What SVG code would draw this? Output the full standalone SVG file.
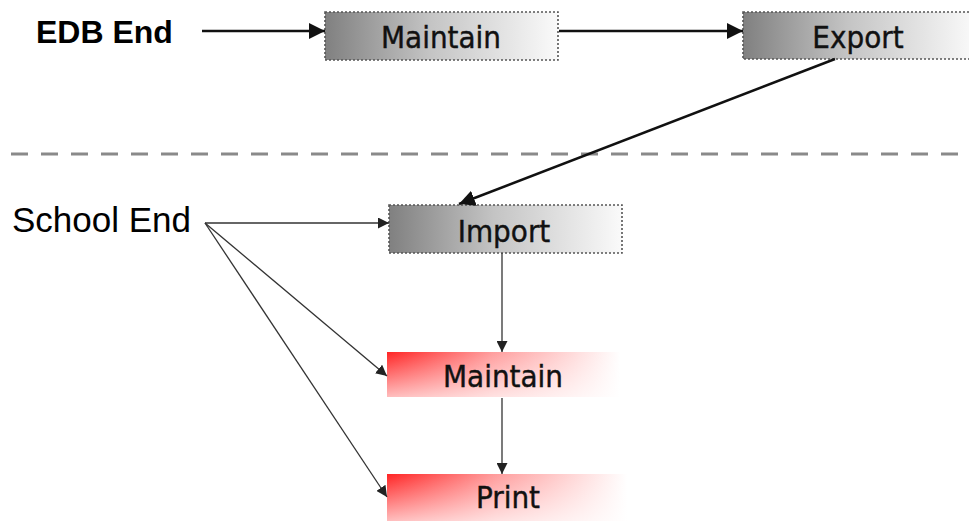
<svg xmlns="http://www.w3.org/2000/svg" width="969" height="521" viewBox="0 0 969 521">
  <defs>
    <linearGradient id="grayFill" x1="0" y1="0" x2="1" y2="0">
      <stop offset="0" stop-color="#808080"/>
      <stop offset="0.45" stop-color="#c4c4c4"/>
      <stop offset="1" stop-color="#fafafa"/>
    </linearGradient>
    <linearGradient id="redFill" x1="0" y1="0" x2="1" y2="0">
      <stop offset="0" stop-color="#ff2424"/>
      <stop offset="0.45" stop-color="#ff9c9c"/>
      <stop offset="1" stop-color="#ffffff"/>
    </linearGradient>
    <linearGradient id="fadeDown" x1="0" y1="0" x2="0" y2="1">
      <stop offset="0" stop-color="#ffffff" stop-opacity="0"/>
      <stop offset="1" stop-color="#ffffff" stop-opacity="0.7"/>
    </linearGradient>
    <marker id="bigHead" viewBox="0 0 10 10" refX="10" refY="5" markerUnits="userSpaceOnUse" markerWidth="16" markerHeight="16" orient="auto">
      <path d="M0,0 L10,5 L0,10 z" fill="#111"/>
    </marker>
    <marker id="smallHead" viewBox="0 0 10 10" refX="10" refY="5" markerUnits="userSpaceOnUse" markerWidth="11" markerHeight="11" orient="auto">
      <path d="M0,0 L10,5 L0,10 z" fill="#222"/>
    </marker>
  </defs>
  <style>
    .gbox { fill: url(#grayFill); stroke: #555; stroke-width: 1.6; stroke-dasharray: 2 2; }
    .rbox { fill: url(#redFill); }
    .fade { fill: url(#fadeDown); }
    .lbl { font-family: "DejaVu Sans Condensed", "DejaVu Sans", Verdana, sans-serif; font-stretch: condensed; font-size: 31px; fill: #111; stroke: #111; stroke-width: 0.4; text-anchor: middle; }
    .side { font-family: "Liberation Sans", Arial, sans-serif; font-size: 35px; fill: #000; }
    .side.bold { font-size: 32px; font-weight: bold; }
    .thick { stroke: #111; stroke-width: 2.5; fill: none; marker-end: url(#bigHead); }
    .thin { stroke: #333; stroke-width: 1.3; fill: none; marker-end: url(#smallHead); }
  </style>

  <rect width="969" height="521" fill="#ffffff"/>

  <!-- divider between the two ends -->
  <line x1="11" y1="154" x2="985" y2="154" stroke="#8a8a8a" stroke-width="3" stroke-dasharray="17 13"/>

  <text class="side bold" x="36" y="43">EDB End</text>
  <text class="side" x="12" y="232">School End</text>

  <g id="node-maintain-edb">
    <rect class="gbox" x="325" y="12" width="233" height="48"/>
    <text class="lbl" x="441" y="48">Maintain</text>
  </g>

  <g id="node-export">
    <rect class="gbox" x="743" y="12" width="232" height="47"/>
    <text class="lbl" x="858" y="48">Export</text>
  </g>

  <g id="node-import">
    <rect class="gbox" x="389" y="205" width="233" height="48"/>
    <text class="lbl" x="504" y="242">Import</text>
  </g>

  <g id="node-maintain-school">
    <rect class="rbox" x="387" y="352" width="233" height="45"/>
    <rect class="fade" x="387" y="352" width="233" height="45"/>
    <text class="lbl" x="503" y="387">Maintain</text>
  </g>

  <g id="node-print">
    <rect class="rbox" x="387" y="474" width="240" height="47"/>
    <rect class="fade" x="387" y="474" width="240" height="47"/>
    <text class="lbl" x="508" y="508">Print</text>
  </g>

  <g id="connectors">
    <line class="thick" x1="202" y1="31" x2="325" y2="31"/>
    <line class="thick" x1="559" y1="31" x2="743" y2="31"/>
    <line class="thick" x1="835" y1="59" x2="459" y2="204"/>
    <line class="thin" x1="205" y1="223" x2="389" y2="223"/>
    <line class="thin" x1="205" y1="223" x2="387" y2="376"/>
    <line class="thin" x1="205" y1="223" x2="387" y2="497"/>
    <line class="thin" x1="502" y1="253" x2="502" y2="352"/>
    <line class="thin" x1="502" y1="398" x2="502" y2="474"/>
  </g>
</svg>
